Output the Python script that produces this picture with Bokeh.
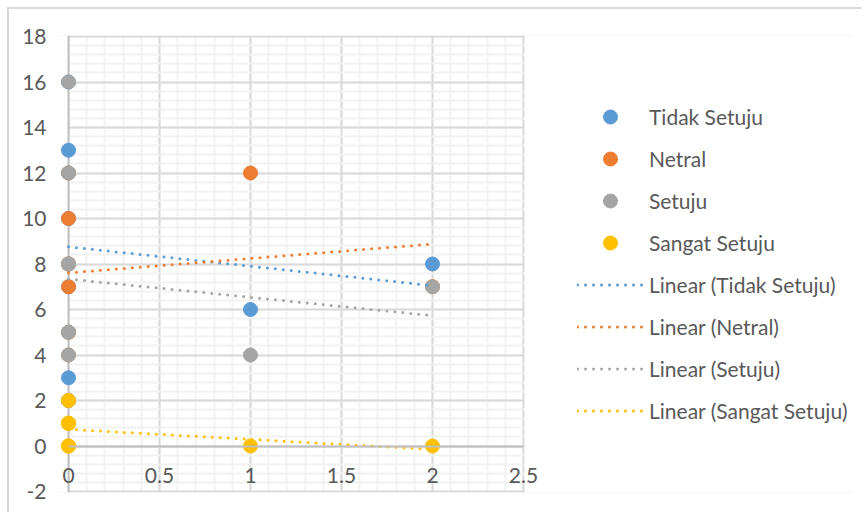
import numpy as np
from bokeh.plotting import figure
from bokeh.models import (Legend, LegendItem, SingleIntervalTicker, Range1d,
                          BoxAnnotation, Span)
from bokeh.embed import file_html
from bokeh.resources import INLINE

# ---- data ----
x_vals = [0, 0, 0, 0, 0, 0, 0, 0, 1, 2]
tidak_setuju = [3, 13, 2, 8, 7, 16, 12, 10, 6, 8]
netral = [12, 5, 4, 10, 8, 5, 8, 7, 12, 7]
setuju = [8, 5, 16, 5, 8, 2, 4, 12, 4, 7]
sangat_setuju = [1, 1, 2, 1, 1, 0, 0, 0, 0, 0]

series_names = ["Tidak Setuju", "Netral", "Setuju", "Sangat Setuju"]
series_values = [tidak_setuju, netral, setuju, sangat_setuju]
colors = ["#5B9BD5", "#ED7D31", "#A5A5A5", "#FFC000"]

x_ticks = [0, 0.5, 1, 1.5, 2, 2.5]
x_tick_labels = ["0", "0.5", "1", "1.5", "2", "2.5"]
y_ticks = [-2, 0, 2, 4, 6, 8, 10, 12, 14, 16, 18]
y_tick_labels = ["-2", "0", "2", "4", "6", "8", "10", "12", "14", "16", "18"]

FONT = "Lato"
TEXT = "#595959"
FS = "21px"

# pixel geometry (page coordinates of the reference plot area)
PX_X = 182.0      # px per x unit
PX_Y = 22.75      # px per y unit
PAD_L, PAD_V = 10, 1
FIG_W, FIG_H = 854, 505
BORDER_R = 12
FRAME_RIGHT_PAGE = 9 + FIG_W - BORDER_R
X1_PAGE = 523     # page x of the last x tick

x0, x1 = x_ticks[0], x_ticks[-1]
y0, y1 = y_ticks[0], y_ticks[-1]

p = figure(width=FIG_W, height=FIG_H,
           x_range=Range1d(x0 - PAD_L / PX_X, x1 + (FRAME_RIGHT_PAGE - X1_PAGE) / PX_X),
           y_range=Range1d(y0 - PAD_V / PX_Y, y1 + PAD_V / PX_Y),
           output_backend="svg", toolbar_location=None,
           min_border_left=49, min_border_right=BORDER_R, min_border_top=26, min_border_bottom=22)
p.styles = {"margin-left": "7px", "margin-top": "7px",
            "border-left": "2px solid #D9D9D9", "border-top": "2px solid #D9D9D9"}
p.outline_line_color = None
p.background_fill_color = "white"
p.border_fill_color = "white"

xt = SingleIntervalTicker(interval=0.5, num_minor_ticks=5)
yt = SingleIntervalTicker(interval=2, num_minor_ticks=5)
p.xaxis.ticker = xt
p.yaxis.ticker = yt
p.xgrid.ticker = xt
p.ygrid.ticker = yt
p.xgrid.bounds = (x0, x1)
p.xaxis.fixed_location = 0
p.xaxis.bounds = (x0, x1)
p.xaxis.major_label_overrides = dict(zip(x_ticks, x_tick_labels))
p.yaxis.major_label_overrides = dict(zip(y_ticks, y_tick_labels))

for ax in (p.xaxis, p.yaxis):
    ax.major_tick_line_color = None
    ax.minor_tick_line_color = None
    ax.axis_line_color = "#BFBFBF"
    ax.axis_line_width = 2
    ax.major_label_text_font = FONT
    ax.major_label_text_font_size = FS
    ax.major_label_text_color = TEXT
p.yaxis.axis_line_color = None
p.yaxis.major_label_standoff = 6
p.xaxis.major_label_standoff = 16

for g in (p.xgrid, p.ygrid):
    g.grid_line_color = "#D9D9D9"
    g.grid_line_width = 2
    g.minor_grid_line_color = "#F2F2F2"
    g.minor_grid_line_width = 2

# white masks hiding grid outside 0..2.5
p.add_layout(BoxAnnotation(right=x0, fill_color="white", fill_alpha=1,
                           line_color=None, line_alpha=0, level="underlay"))
p.add_layout(BoxAnnotation(left=x1 + 1.2 / PX_X, fill_color="white", fill_alpha=1,
                           line_color=None, line_alpha=0, level="underlay"))
# vertical value axis line at x = 0
p.add_layout(Span(location=x0, dimension="height", line_color="#BFBFBF",
                  line_width=2, level="underlay"))

scatter_items = []
line_items = []
for name, vals, c in zip(series_names, series_values, colors):
    r = p.scatter(x_vals, vals, size=14, marker="circle", fill_color=c, line_color=c)
    scatter_items.append(LegendItem(label=name, renderers=[r]))

for name, vals, c in zip(series_names, series_values, colors):
    coef = np.polyfit(x_vals, vals, 1)
    xs = [min(x_vals), max(x_vals)]
    ys = list(np.polyval(coef, xs))
    r = p.line(xs, ys, line_color=c, line_width=3, line_dash="0 8", line_cap="round")
    line_items.append(LegendItem(label="Linear (" + name + ")", renderers=[r]))

legend = Legend(items=scatter_items + line_items, location=(519, 64),
                glyph_width=66, glyph_height=35, label_height=35, spacing=7,
                padding=0, margin=0, label_standoff=6,
                border_line_color=None, background_fill_alpha=0,
                label_text_font=FONT, label_text_font_size=FS,
                label_text_color=TEXT)
p.add_layout(legend)

open("out.html", "w").write(file_html(p, INLINE))
